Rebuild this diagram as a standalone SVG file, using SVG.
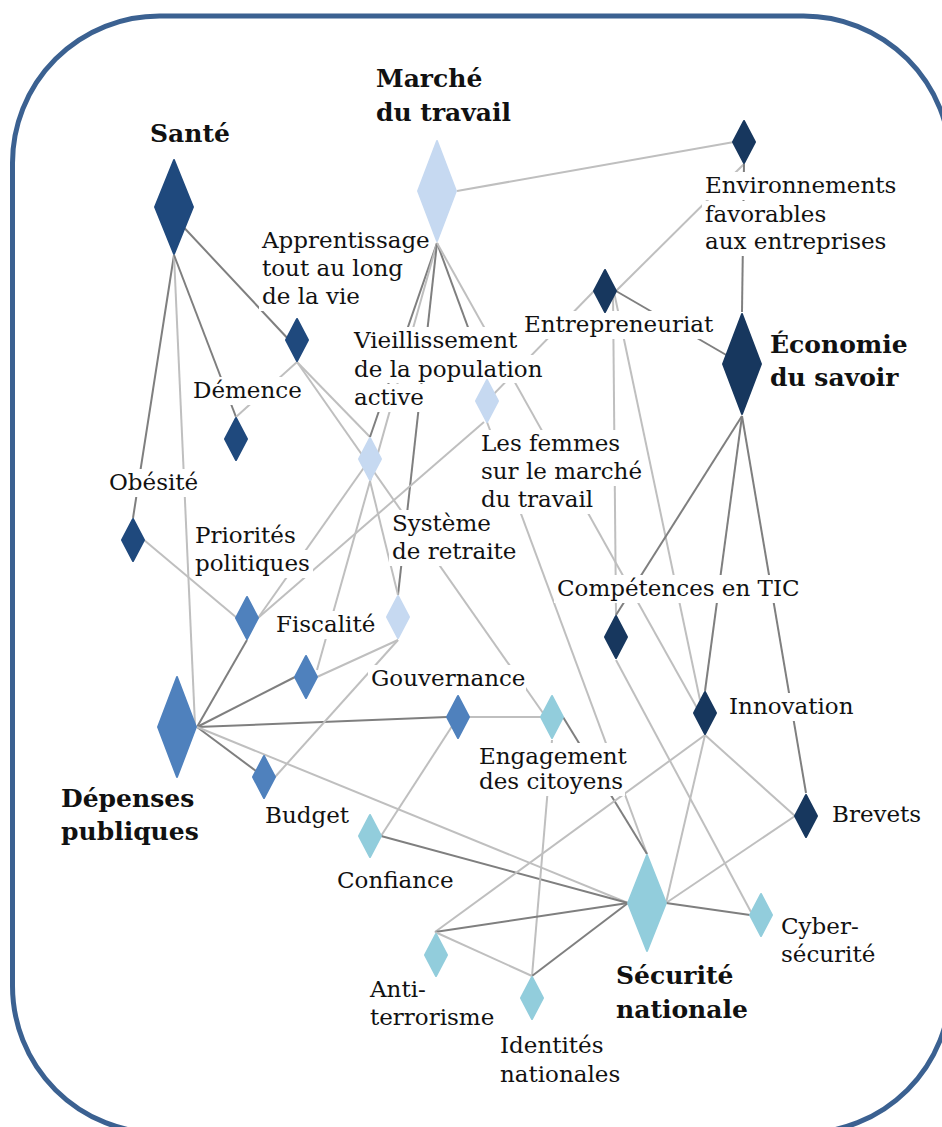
<svg xmlns="http://www.w3.org/2000/svg" width="942" height="1127" viewBox="0 0 942 1127">
<style>
.frame{fill:none;stroke:#3b6191;stroke-width:5}
.e{stroke-width:2;fill:none}
.d{stroke:#7f7f7f}
.l{stroke:#bfbfbf}
.bg{fill:#fff}
.n{stroke-width:2;stroke-linejoin:round}
.c1{fill:#1f497d;stroke:#1f497d}
.c2{fill:#c6d9f1;stroke:#c6d9f1}
.c3{fill:#4f81bd;stroke:#4f81bd}
.c4{fill:#92cddc;stroke:#92cddc}
.c5{fill:#17375e;stroke:#17375e}
.t{font-family:"DejaVu Serif","Liberation Serif",serif;font-size:23px;fill:#111}
.b{font-family:"DejaVu Serif","Liberation Serif",serif;font-size:25px;font-weight:bold;fill:#111}
</style>
<rect class="frame" x="12.5" y="16" width="938" height="1117" rx="147" ry="147"/>
<g id="connectors">
<line class="e d" x1="174" y1="255" x2="133" y2="518"/>
<line class="e l" x1="174" y1="255" x2="195" y2="725"/>
<line class="e d" x1="174" y1="255" x2="236" y2="417"/>
<line class="e d" x1="176" y1="219" x2="291" y2="342"/>
<line class="e l" x1="297" y1="362" x2="236" y2="417"/>
<line class="e l" x1="297" y1="362" x2="370" y2="437"/>
<line class="e l" x1="297" y1="362" x2="543" y2="713"/>
<line class="e d" x1="437" y1="243" x2="370" y2="437"/>
<line class="e l" x1="437" y1="243" x2="317" y2="670"/>
<line class="e d" x1="437" y1="243" x2="398" y2="595"/>
<line class="e d" x1="437" y1="243" x2="487" y2="379"/>
<line class="e l" x1="437" y1="243" x2="697" y2="708"/>
<line class="e l" x1="457" y1="191" x2="734" y2="142"/>
<line class="e l" x1="370" y1="459" x2="258" y2="618"/>
<line class="e l" x1="370" y1="481" x2="398" y2="595"/>
<line class="e l" x1="258" y1="618" x2="484" y2="422"/>
<line class="e l" x1="487" y1="401" x2="594" y2="291"/>
<line class="e l" x1="487" y1="422" x2="647" y2="854"/>
<line class="e l" x1="144" y1="540" x2="237" y2="618"/>
<line class="e d" x1="197" y1="727" x2="247" y2="640"/>
<line class="e d" x1="197" y1="727" x2="295" y2="677"/>
<line class="e d" x1="197" y1="727" x2="447" y2="717"/>
<line class="e d" x1="197" y1="727" x2="260" y2="774"/>
<line class="e l" x1="197" y1="727" x2="628" y2="903"/>
<line class="e l" x1="317" y1="677" x2="398" y2="640"/>
<line class="e l" x1="398" y1="640" x2="275" y2="777"/>
<line class="e l" x1="469" y1="717" x2="541" y2="717"/>
<line class="e l" x1="458" y1="717" x2="381" y2="836"/>
<line class="e d" x1="381" y1="836" x2="628" y2="903"/>
<line class="e d" x1="563" y1="717" x2="647" y2="854"/>
<line class="e l" x1="552" y1="740" x2="532" y2="976"/>
<line class="e l" x1="616" y1="291" x2="744" y2="164"/>
<line class="e d" x1="744" y1="164" x2="742" y2="312"/>
<line class="e d" x1="616" y1="291" x2="728" y2="356"/>
<line class="e l" x1="613" y1="293" x2="616" y2="615"/>
<line class="e l" x1="614" y1="292" x2="700" y2="700"/>
<line class="e d" x1="742" y1="416" x2="616" y2="615"/>
<line class="e d" x1="742" y1="416" x2="705" y2="691"/>
<line class="e d" x1="742" y1="416" x2="806" y2="793"/>
<line class="e l" x1="616" y1="660" x2="751" y2="912"/>
<line class="e l" x1="705" y1="735" x2="795" y2="816"/>
<line class="e l" x1="705" y1="735" x2="435" y2="932"/>
<line class="e l" x1="705" y1="735" x2="666" y2="903"/>
<line class="e l" x1="666" y1="903" x2="795" y2="816"/>
<line class="e d" x1="666" y1="903" x2="750" y2="915"/>
<line class="e d" x1="628" y1="903" x2="435" y2="932"/>
<line class="e d" x1="628" y1="903" x2="532" y2="976"/>
<line class="e l" x1="435" y1="932" x2="532" y2="976"/>
</g>
<g id="label-backgrounds">
<rect class="bg" x="259" y="227" width="171" height="28"/>
<rect class="bg" x="259" y="255" width="146" height="28"/>
<rect class="bg" x="259" y="283" width="101" height="28"/>
<rect class="bg" x="190" y="377" width="115" height="28"/>
<rect class="bg" x="106" y="469" width="92" height="28"/>
<rect class="bg" x="351" y="327" width="171" height="28"/>
<rect class="bg" x="351" y="355" width="193" height="28"/>
<rect class="bg" x="351" y="384" width="73" height="28"/>
<rect class="bg" x="478" y="430" width="145" height="28"/>
<rect class="bg" x="478" y="458" width="165" height="28"/>
<rect class="bg" x="478" y="486" width="117" height="28"/>
<rect class="bg" x="389" y="510" width="104" height="28"/>
<rect class="bg" x="389" y="538" width="126" height="28"/>
<rect class="bg" x="192" y="522" width="101" height="28"/>
<rect class="bg" x="192" y="550" width="121" height="28"/>
<rect class="bg" x="273" y="611" width="100" height="28"/>
<rect class="bg" x="368" y="665" width="158" height="28"/>
<rect class="bg" x="262" y="802" width="85" height="28"/>
<rect class="bg" x="334" y="867" width="121" height="28"/>
<rect class="bg" x="476" y="743" width="150" height="26"/>
<rect class="bg" x="476" y="769" width="149" height="27"/>
<rect class="bg" x="367" y="976" width="64" height="28"/>
<rect class="bg" x="367" y="1004" width="128" height="28"/>
<rect class="bg" x="497" y="1032" width="107" height="28"/>
<rect class="bg" x="497" y="1061" width="127" height="28"/>
<rect class="bg" x="778" y="913" width="81" height="28"/>
<rect class="bg" x="778" y="941" width="98" height="28"/>
<rect class="bg" x="829" y="801" width="91" height="28"/>
<rect class="bg" x="726" y="693" width="133" height="28"/>
<rect class="bg" x="554" y="575" width="245" height="28"/>
<rect class="bg" x="521" y="311" width="189" height="28"/>
<rect class="bg" x="702" y="172" width="198" height="28"/>
<rect class="bg" x="702" y="201" width="125" height="28"/>
<rect class="bg" x="702" y="228" width="185" height="28"/>
<rect class="bg" x="147" y="118" width="86" height="32"/>
<rect class="bg" x="373" y="63" width="111" height="32"/>
<rect class="bg" x="373" y="96" width="142" height="33"/>
<rect class="bg" x="767" y="329" width="145" height="32"/>
<rect class="bg" x="767" y="362" width="141" height="33"/>
<rect class="bg" x="58" y="783" width="143" height="32"/>
<rect class="bg" x="58" y="816" width="146" height="33"/>
<rect class="bg" x="613" y="960" width="120" height="32"/>
<rect class="bg" x="613" y="994" width="140" height="33"/>
</g>
<g id="node-sante"><polygon class="n c1" points="174,160 193,207 174,254 155,207"/><text class="b" x="150" y="142">Santé</text></g>
<g id="node-demence"><polygon class="n c1" points="236,418 247,439 236,460 225,439"/><text class="t" x="193" y="398">Démence</text></g>
<g id="node-obesite"><polygon class="n c1" points="133,519 144,540 133,561 122,540"/><text class="t" x="109" y="490">Obésité</text></g>
<g id="node-apprentissage"><polygon class="n c1" points="297,319 308,340 297,361 286,340"/><text class="t" x="262"><tspan x="262" y="248">Apprentissage</tspan><tspan x="262" y="276">tout au long</tspan><tspan x="262" y="304">de la vie</tspan></text></g>
<g id="node-marche"><polygon class="n c2" points="437,141 456,191 437,241 418,191"/><text class="b"><tspan x="376" y="87">Marché</tspan><tspan x="376" y="121">du travail</tspan></text></g>
<g id="node-vieillissement"><polygon class="n c2" points="370,438 381,459 370,480 359,459"/><text class="t"><tspan x="354" y="348">Vieillissement</tspan><tspan x="354" y="377">de la population</tspan><tspan x="354" y="405">active</tspan></text></g>
<g id="node-femmes"><polygon class="n c2" points="487,380 498,401 487,422 476,401"/><text class="t"><tspan x="481" y="451">Les femmes</tspan><tspan x="481" y="479">sur le marché</tspan><tspan x="481" y="507">du travail</tspan></text></g>
<g id="node-retraite"><polygon class="n c2" points="398,596 409,617 398,638 387,617"/><text class="t"><tspan x="392" y="531">Système</tspan><tspan x="392" y="559">de retraite</tspan></text></g>
<g id="node-depenses"><polygon class="n c3" points="177,677 196,727 177,777 158,727"/><text class="b"><tspan x="61" y="807">Dépenses</tspan><tspan x="61" y="840">publiques</tspan></text></g>
<g id="node-priorites"><polygon class="n c3" points="247,597 258,618 247,639 236,618"/><text class="t"><tspan x="195" y="543">Priorités</tspan><tspan x="195" y="571">politiques</tspan></text></g>
<g id="node-fiscalite"><polygon class="n c3" points="306,656 317,677 306,698 295,677"/><text class="t" x="276" y="632">Fiscalité</text></g>
<g id="node-gouvernance"><polygon class="n c3" points="458,696 469,717 458,738 447,717"/><text class="t" x="371" y="686">Gouvernance</text></g>
<g id="node-budget"><polygon class="n c3" points="264,756 275,777 264,798 253,777"/><text class="t" x="265" y="823">Budget</text></g>
<g id="node-securite"><polygon class="n c4" points="647,855 666,903 647,951 628,903"/><text class="b"><tspan x="616" y="984">Sécurité</tspan><tspan x="616" y="1018">nationale</tspan></text></g>
<g id="node-engagement"><polygon class="n c4" points="552,696 563,717 552,738 541,717"/><text class="t"><tspan x="479" y="764">Engagement</tspan><tspan x="479" y="789">des citoyens</tspan></text></g>
<g id="node-confiance"><polygon class="n c4" points="370,815 381,836 370,857 359,836"/><text class="t" x="337" y="888">Confiance</text></g>
<g id="node-antiterrorisme"><polygon class="n c4" points="436,934 447,955 436,976 425,955"/><text class="t"><tspan x="370" y="997">Anti-</tspan><tspan x="370" y="1025">terrorisme</tspan></text></g>
<g id="node-identites"><polygon class="n c4" points="532,977 543,998 532,1019 521,998"/><text class="t"><tspan x="500" y="1053">Identités</tspan><tspan x="500" y="1082">nationales</tspan></text></g>
<g id="node-cyber"><polygon class="n c4" points="761,894 772,915 761,936 750,915"/><text class="t"><tspan x="781" y="934">Cyber-</tspan><tspan x="781" y="962">sécurité</tspan></text></g>
<g id="node-economie"><polygon class="n c5" points="742,314 761,364 742,414 723,364"/><text class="b"><tspan x="770" y="353">Économie</tspan><tspan x="770" y="386">du savoir</tspan></text></g>
<g id="node-environnements"><polygon class="n c5" points="744,121 755,142 744,163 733,142"/><text class="t"><tspan x="705" y="193">Environnements</tspan><tspan x="705" y="222">favorables</tspan><tspan x="705" y="249">aux entreprises</tspan></text></g>
<g id="node-entrepreneuriat"><polygon class="n c5" points="605,270 616,291 605,312 594,291"/><text class="t" x="524" y="332">Entrepreneuriat</text></g>
<g id="node-competences"><polygon class="n c5" points="616,616 627,637 616,658 605,637"/><text class="t" x="557" y="596">Compétences en TIC</text></g>
<g id="node-innovation"><polygon class="n c5" points="705,692 716,713 705,734 694,713"/><text class="t" x="729" y="714">Innovation</text></g>
<g id="node-brevets"><polygon class="n c5" points="806,795 817,816 806,837 795,816"/><text class="t" x="832" y="822">Brevets</text></g>
</svg>
